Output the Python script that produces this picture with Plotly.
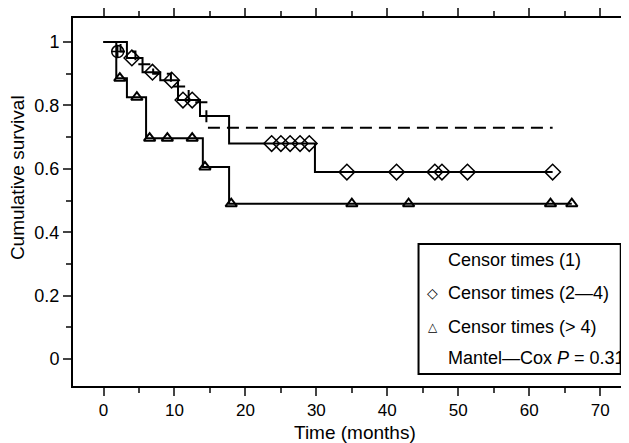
import plotly.graph_objects as go

# ---- data ----
g1_t = [0, 2.4, 4.5, 7.0, 9.5, 12.0, 14.5, 63.3]
g1_s = [1.0, 0.97, 0.93, 0.90, 0.86, 0.81, 0.73, 0.73]
g1_cens_t = [2.0]
g1_cens_s = [0.97]

g2_t = [0, 3.3, 5.5, 8.0, 10.5, 13.6, 17.7, 29.8, 63.3]
g2_s = [1.0, 0.95, 0.905, 0.88, 0.817, 0.767, 0.68, 0.59, 0.59]
g2_cens_t = [4.0, 6.9, 9.6, 11.2, 12.5, 23.7, 25.0, 26.3, 27.7, 29.0, 34.3, 41.3, 46.7, 47.7, 51.3, 63.3]

g3_t = [0, 1.8, 3.3, 6.0, 14.0, 17.7, 66.0]
g3_s = [1.0, 0.886, 0.826, 0.697, 0.606, 0.49, 0.49]
g3_cens_t = [2.3, 4.7, 6.5, 9.0, 12.5, 14.3, 18.0, 35.0, 43.0, 63.0, 66.0]

legend_labels = ["Censor times (1)", "Censor times (2\u20144)", "Censor times (> 4)",
                 "Mantel\u2014Cox <i>P</i> = 0.31"]
x_ticks = [0, 10, 20, 30, 40, 50, 60, 70]
y_ticks = [0, 0.2, 0.4, 0.6, 0.8, 1]
x_title = "Time (months)"
y_title = "Cumulative survival"


def step_value(ts, ss, t):
    v = ss[0]
    for ti, si in zip(ts, ss):
        if ti <= t:
            v = si
    return v


fig = go.Figure()
fig.add_trace(go.Scatter(x=g1_t, y=g1_s, mode="lines", line=dict(shape="hv", color="black", width=2, dash="12px,7px")))
fig.add_trace(go.Scatter(x=g2_t, y=g2_s, mode="lines", line=dict(shape="hv", color="black", width=2)))
fig.add_trace(go.Scatter(x=g3_t, y=g3_s, mode="lines", line=dict(shape="hv", color="black", width=2)))

fig.add_trace(go.Scatter(x=g1_cens_t, y=g1_cens_s, mode="markers",
                         marker=dict(symbol="circle-cross-open", size=12, color="black", line=dict(width=1.5))))
fig.add_trace(go.Scatter(x=g2_cens_t, y=[step_value(g2_t, g2_s, t) for t in g2_cens_t], mode="markers",
                         marker=dict(symbol="diamond-open", size=12, color="black", line=dict(width=1.5))))
fig.add_trace(go.Scatter(x=g3_cens_t, y=[step_value(g3_t, g3_s, t) for t in g3_cens_t], mode="markers",
                         marker=dict(symbol="triangle-up-open", size=10, color="black", line=dict(width=2))))

font = "Liberation Sans, Arial, sans-serif"

# legend box (manual)
fig.add_shape(type="rect", xref="x", yref="y", x0=44.4, x1=72.9, y0=-0.047, y1=0.363,
              line=dict(color="black", width=2), fillcolor="white", layer="above")
leg_y = [0.312, 0.208, 0.101, 0.003]
for lab, yy in zip(legend_labels, leg_y):
    fig.add_annotation(x=48.3, y=yy, xref="x", yref="y", text=lab, showarrow=False,
                       xanchor="left", yanchor="middle", font=dict(family=font, size=18, color="black"))
fig.add_annotation(x=46.4, y=leg_y[1], xref="x", yref="y", text="\u25c7", showarrow=False,
                   xanchor="center", yanchor="middle", font=dict(family="DejaVu Sans", size=14, color="black"))
fig.add_annotation(x=46.4, y=leg_y[2], xref="x", yref="y", text="\u25b3", showarrow=False,
                   xanchor="center", yanchor="middle", font=dict(family="DejaVu Sans", size=12, color="black"))

# axis titles
fig.add_annotation(x=0.511, y=-0.127, xref="paper", yref="paper", text=x_title, showarrow=False,
                   xanchor="center", yanchor="middle", font=dict(family=font, size=19, color="black"))
fig.add_annotation(x=-0.1014, y=0.565, xref="paper", yref="paper", text=y_title, showarrow=False,
                   textangle=-90, xanchor="center", yanchor="middle", font=dict(family=font, size=19, color="black"))

# thin right border
fig.add_shape(type="line", xref="paper", yref="paper", x0=1, x1=1, y0=0, y1=1,
              line=dict(color="black", width=1))

# the page body adds an 8px offset, so the figure is drawn 8px smaller
fig.update_layout(
    width=621, height=435,
    margin=dict(l=65, r=4, t=10, b=57, autoexpand=False),
    paper_bgcolor="white", plot_bgcolor="white",
    showlegend=False,
    font=dict(family=font, color="black"),
)
fig.update_xaxes(
    range=[-4.3, 73.5], tickvals=x_ticks, ticks="outside", ticklen=8, tickwidth=2,
    showline=True, linewidth=2, linecolor="black", mirror="ticks", showgrid=False, zeroline=False,
    tickfont=dict(size=17), automargin=False,
    minor=dict(dtick=5, tick0=0, ticks="outside", ticklen=5, tickwidth=2, showgrid=False),
)
fig.update_yaxes(
    range=[-0.085, 1.076], tickvals=y_ticks, ticktext=["0", "0.2", "0.4", "0.6", "0.8", "1"],
    ticks="outside", ticklen=8, tickwidth=2,
    showline=True, linewidth=2, linecolor="black", mirror=False, showgrid=False, zeroline=False,
    tickfont=dict(size=18), automargin=False,
    minor=dict(dtick=0.1, tick0=0, ticks="outside", ticklen=5, tickwidth=2, showgrid=False),
)

fig.write_html("out.html")
